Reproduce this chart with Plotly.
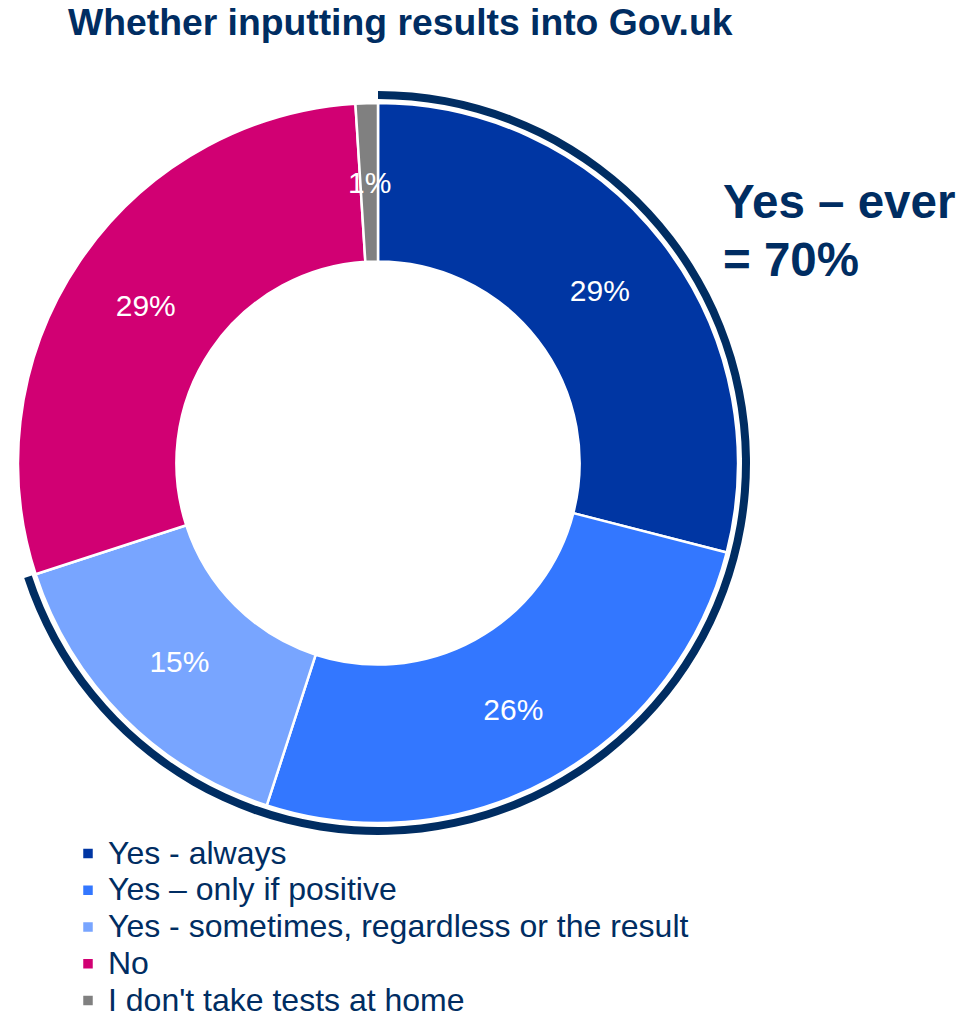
import math
import plotly.graph_objects as go

# ---- data ----
categories = ["Yes - always", "Yes – only if positive",
              "Yes - sometimes, regardless or the result", "No",
              "I don't take tests at home"]
values = [29, 26, 15, 29, 1]
colors = ["#0036A3", "#3377FF", "#78A5FF", "#D10073", "#808080"]
ever_count = 3  # first three categories form "Yes – ever"
title_text = "Whether inputting results into Gov.uk"

NAVY = "#002D62"
W, H = 963, 1015
CX, CY, R = 378, 463, 360          # donut centre / radius in px
RING_IN, RING_OUT = 364, 372        # outer highlight ring
HOLE = 0.56

def dom(r):
    return dict(x=[(CX - r) / W, (CX + r) / W],
                y=[(H - CY - r) / H, (H - CY + r) / H])

total = sum(values)
ever = sum(values[:ever_count])

# small-slice labels that plotly would shrink are placed as annotations
texts = [f"{v}%" if v / total >= 0.05 else "" for v in values]

fig = go.Figure()

# highlight ring around the "Yes" slices
fig.add_trace(go.Pie(
    values=[ever, total - ever],
    labels=["ever", "rest"],
    marker=dict(colors=[NAVY, "rgba(0,0,0,0)"], line=dict(width=0)),
    hole=RING_IN / RING_OUT, sort=False, direction="clockwise", rotation=0,
    textinfo="none", hoverinfo="skip", showlegend=False,
    domain=dom(RING_OUT),
))

legend_labels = [f'<span style="font-size:32px">{c}</span>' for c in categories]

fig.add_trace(go.Pie(
    values=values,
    labels=legend_labels,
    marker=dict(colors=colors, line=dict(color="white", width=2.5)),
    hole=HOLE, sort=False, direction="clockwise", rotation=0,
    text=texts, textinfo="text", textposition="inside",
    insidetextorientation="horizontal",
    textfont=dict(family="Liberation Sans, Arial", size=30, color="white"),
    hoverinfo="skip", showlegend=True,
    domain=dom(R),
))

annotations = []
cum = 0
rmid = R * (1 + HOLE) / 2
for v, t in zip(values, texts):
    if t == "":
        th = 2 * math.pi * (cum + v / 2) / total
        px = CX + rmid * math.sin(th)
        py = CY - rmid * math.cos(th)
        annotations.append(dict(
            x=px / W, y=1 - py / H, xref="paper", yref="paper",
            text=f"{v}%", showarrow=False, xanchor="center", yanchor="middle",
            font=dict(family="Liberation Sans, Arial", size=30, color="white")))
    cum += v

for txt, ypx in [("Yes – ever", 201), (f"= {ever}%", 259)]:
    annotations.append(dict(
        x=721 / W, y=1 - ypx / H, xref="paper", yref="paper",
        text=f"<b>{txt}</b>", showarrow=False,
        xanchor="left", yanchor="middle", align="left",
        font=dict(family="Liberation Sans, Arial", size=47.5, color=NAVY)))

fig.update_layout(
    width=W, height=H,
    margin=dict(l=0, r=0, t=0, b=0, autoexpand=False),
    paper_bgcolor="white", plot_bgcolor="white",
    title=dict(text=f"<b>{title_text}</b>", x=68 / W, xanchor="left",
               y=1 - 22 / H, yanchor="middle", yref="container", xref="container",
               font=dict(family="Liberation Sans, Arial", size=37.3, color=NAVY)),
    legend=dict(x=68 / W, xanchor="left", y=1 - 830 / H, yanchor="top",
                font=dict(family="Liberation Sans, Arial", size=26, color=NAVY),
                bgcolor="rgba(0,0,0,0)", borderwidth=0, tracegroupgap=0),
    annotations=annotations,
)

fig.write_html("out.html")
